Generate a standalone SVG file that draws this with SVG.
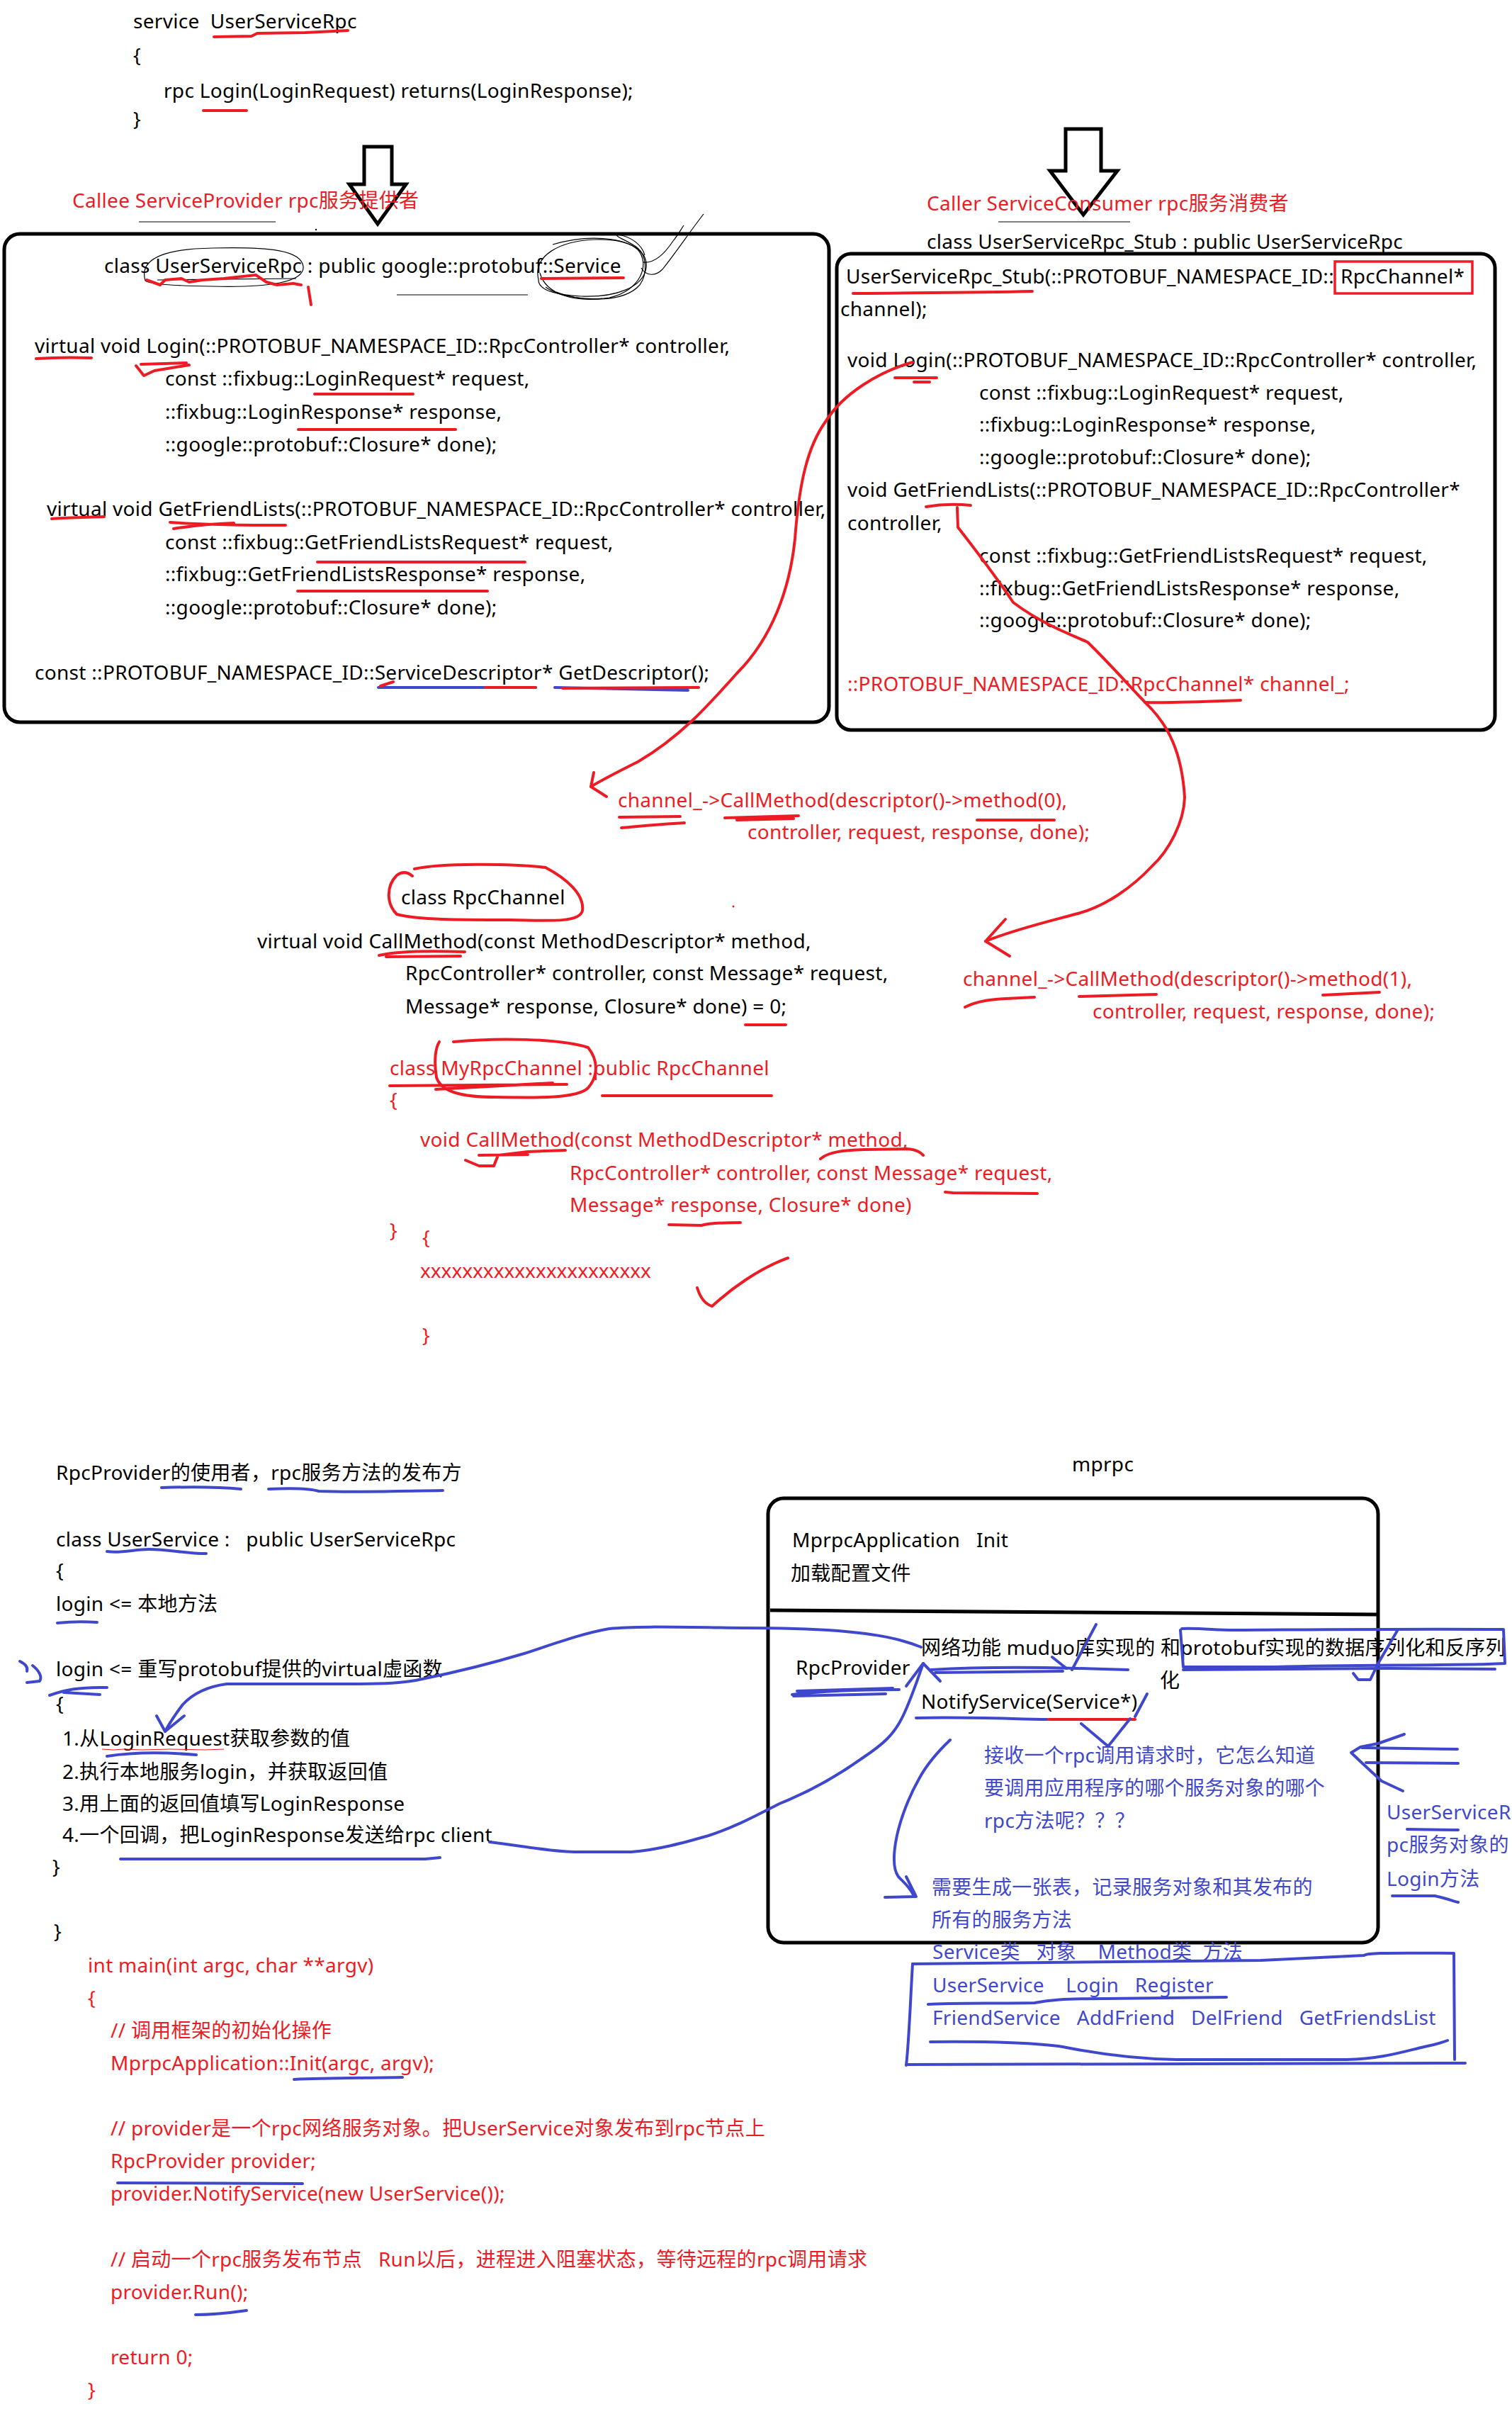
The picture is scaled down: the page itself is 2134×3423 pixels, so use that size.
<svg xmlns="http://www.w3.org/2000/svg" width="2134" height="3423" viewBox="0 0 2134 3423" xml:space="preserve">
<style>
  text { font-family: "Noto Sans", "Noto Sans CJK SC", sans-serif; font-size: 28px; white-space: pre; letter-spacing: 0.3px; }
  .t { fill: #000; }
  .r { fill: #ED1C24; }
  .b { fill: #3F48CC; }
  .box { fill: none; stroke: #000; stroke-width: 5; }
  .pen-r { fill: none; stroke: #ED1C24; stroke-width: 4; stroke-linecap: round; stroke-linejoin: round; }
  .pen-b { fill: none; stroke: #3F48CC; stroke-width: 4; stroke-linecap: round; stroke-linejoin: round; }
  .thin { fill: none; stroke: #000; stroke-width: 1.2; }
  .hollow { fill: #fff; stroke: #000; stroke-width: 5; stroke-linejoin: miter; }
</style>
<rect width="2134" height="3423" fill="#fff"/>

<!-- proto definition -->
<g id="proto">
  <text class="t" x="188" y="40">service  UserServiceRpc</text>
  <text class="t" x="188" y="88">{</text>
  <text class="t" x="231" y="138">rpc Login(LoginRequest) returns(LoginResponse);</text>
  <text class="t" x="188" y="178">}</text>
  <path class="pen-r" d="M302 52 L355 51 L363 47 L431 46 L491 43"/>
  <path class="pen-r" d="M287 156 L348 156"/>
</g>

<!-- hollow down arrows -->
<g id="arrow-callee">
  <path class="hollow" d="M514 207 L553 207 L553 260 L573 260 L533 316 L493 260 L514 260 Z"/>
</g>
<g id="arrow-caller">
  <path class="hollow" d="M1504 182 L1554 182 L1554 241 L1577 241 L1529 303 L1482 241 L1504 241 Z"/>
</g>

<!-- callee: service provider -->
<g id="callee">
  <text class="r" x="102" y="293">Callee ServiceProvider rpc服务提供者</text>
  <line class="thin" x1="196" y1="313" x2="389" y2="313"/>
  <circle cx="446" cy="324" r="1.2" fill="#000"/>
  <rect class="box" x="6" y="330" width="1164" height="689" rx="22"/>
  <text class="t" x="147" y="385">class UserServiceRpc : public google::protobuf::Service</text>
  <text class="t" x="49" y="498">virtual void Login(::PROTOBUF_NAMESPACE_ID::RpcController* controller,</text>
  <text class="t" x="233" y="544">const ::fixbug::LoginRequest* request,</text>
  <text class="t" x="233" y="591">::fixbug::LoginResponse* response,</text>
  <text class="t" x="233" y="637">::google::protobuf::Closure* done);</text>
  <text class="t" x="66" y="728">virtual void GetFriendLists(::PROTOBUF_NAMESPACE_ID::RpcController* controller,</text>
  <text class="t" x="233" y="775">const ::fixbug::GetFriendListsRequest* request,</text>
  <text class="t" x="233" y="820">::fixbug::GetFriendListsResponse* response,</text>
  <text class="t" x="233" y="867">::google::protobuf::Closure* done);</text>
  <text class="t" x="49" y="959">const ::PROTOBUF_NAMESPACE_ID::ServiceDescriptor* GetDescriptor();</text>
  <!-- pencil marks -->
  <path class="thin" d="M205 396 C195 362 240 351 300 350 C380 348 425 353 428 376 C430 398 380 406 300 404 C240 403 212 401 205 396"/>
  <path class="thin" d="M222 395 L418 393"/>
  <path class="thin" d="M760 395 C752 360 790 340 840 338 C890 336 915 355 912 378 C908 405 870 420 820 418 C780 416 760 408 760 395"/>
  <path class="thin" d="M780 345 C830 330 880 335 900 352 C918 372 905 410 860 420 C810 428 770 415 762 385"/>
  <path class="thin" d="M785 412 C820 426 880 428 903 402 C915 385 912 360 900 350 C888 340 865 333 872 331 C892 334 906 346 910 360"/>
  <path class="thin" d="M770 405 C790 420 830 423 850 421"/>
  <path class="thin" d="M905 378 C912 390 925 390 935 380 C955 355 975 325 993 302"/>
  <path class="thin" d="M908 370 C925 372 940 355 950 340 C958 330 962 322 965 318"/>
  <path class="thin" d="M560 416 L745 416"/>
  <path class="pen-r" d="M207 395 L226 402 L233 395 L256 393 L267 398 L286 395 L316 393 L361 388 L376 398 L391 402 L414 400 L425 402"/>
  <path class="pen-r" stroke-width="2.5" d="M435 405 L439 430"/>
  <path class="pen-r" d="M764 393 L880 392"/>
  <path class="pen-r" d="M51 506 C80 504 100 504 129 505"/>
  <path class="pen-r" d="M199 514 L263 512 M192 516 L203 530 L218 523 L267 515"/>
  <path class="pen-r" d="M444 556 L583 556"/>
  <path class="pen-r" d="M421 606 L643 606"/>
  <path class="pen-r" d="M73 732 C100 730 120 730 147 729"/>
  <path class="pen-r" d="M240 737 C280 740 330 741 403 741 M245 746 C270 742 300 739 330 738"/>
  <path class="pen-r" d="M448 793 L741 793"/>
  <path class="pen-r" d="M420 834 L688 834"/>
  <path class="pen-b" d="M534 970 L756 970 M783 970 L971 974"/>
  <path class="pen-r" d="M685 970 L756 970 M794 971 L986 970 M537 968 L555 962"/>
</g>

<!-- caller: service consumer -->
<g id="caller">
  <text class="r" x="1308" y="297">Caller ServiceConsumer rpc服务消费者</text>
  <line class="thin" x1="1409" y1="313" x2="1595" y2="313"/>
  <text class="t" x="1308" y="351">class UserServiceRpc_Stub : public UserServiceRpc</text>
  <rect class="box" x="1181" y="358" width="929" height="672" rx="20"/>
  <text class="t" x="1194" y="400">UserServiceRpc_Stub(::PROTOBUF_NAMESPACE_ID::<tspan x="1892">RpcChannel*</tspan></text>
  <text class="t" x="1186" y="446">channel);</text>
  <text class="t" x="1196" y="518">void Login(::PROTOBUF_NAMESPACE_ID::RpcController* controller,</text>
  <text class="t" x="1382" y="564">const ::fixbug::LoginRequest* request,</text>
  <text class="t" x="1382" y="609">::fixbug::LoginResponse* response,</text>
  <text class="t" x="1382" y="655">::google::protobuf::Closure* done);</text>
  <text class="t" x="1196" y="701">void GetFriendLists(::PROTOBUF_NAMESPACE_ID::RpcController*</text>
  <text class="t" x="1196" y="748">controller,</text>
  <text class="t" x="1382" y="794">const ::fixbug::GetFriendListsRequest* request,</text>
  <text class="t" x="1382" y="840">::fixbug::GetFriendListsResponse* response,</text>
  <text class="t" x="1382" y="885">::google::protobuf::Closure* done);</text>
  <text class="r" x="1196" y="975">::PROTOBUF_NAMESPACE_ID::RpcChannel* channel_;</text>
  <rect x="1884" y="369" width="194" height="45" fill="none" stroke="#ED1C24" stroke-width="3.5"/>
  <path class="pen-r" d="M1204 414 C1300 413 1380 413 1457 411"/>
  <path class="pen-r" d="M1263 533 L1322 533 M1290 539 L1312 539"/>
  <path class="pen-r" d="M1616 991 C1660 992 1700 990 1751 988"/>
</g>

<!-- RpcChannel interface and calls -->
<g id="rpcchannel">
  <text class="r" x="872" y="1139">channel_-&gt;CallMethod(descriptor()-&gt;method(0),</text>
  <text class="r" x="1055" y="1184">controller, request, response, done);</text>
  <text class="t" x="566" y="1276">class RpcChannel</text>
  <text class="t" x="363" y="1338">virtual void CallMethod(const MethodDescriptor* method,</text>
  <text class="t" x="572" y="1383">RpcController* controller, const Message* request,</text>
  <text class="t" x="572" y="1430">Message* response, Closure* done) = 0;</text>
  <text class="r" x="1359" y="1391">channel_-&gt;CallMethod(descriptor()-&gt;method(1),</text>
  <text class="r" x="1542" y="1437">controller, request, response, done);</text>
  <path class="pen-r" stroke-width="5" d="M585 1226 C620 1218 720 1218 770 1224 C800 1240 825 1262 822 1285 C818 1300 790 1300 720 1298 C650 1298 590 1298 560 1290 C545 1275 545 1250 560 1235 C568 1229 575 1230 582 1236"/>
  <circle cx="1035" cy="1279" r="1.5" fill="#ED1C24"/>
  <path class="pen-r" d="M874 1153 L960 1152 M877 1168 C900 1166 930 1163 966 1161"/>
  <path class="pen-r" d="M1023 1154 L1127 1151 M1040 1157 L1120 1155"/>
  <path class="pen-r" d="M1379 1157 L1488 1157"/>
  <path class="pen-r" d="M535 1348 C560 1342 600 1341 656 1343 M545 1350 L650 1349"/>
  <path class="pen-r" d="M1052 1446 L1109 1446"/>
  <path class="pen-r" d="M1362 1421 C1380 1412 1400 1410 1420 1409 L1460 1407"/>
  <path class="pen-r" d="M1523 1406 L1632 1403"/>
  <path class="pen-r" d="M1867 1404 L1947 1400"/>
</g>

<!-- MyRpcChannel implementation -->
<g id="myrpcchannel">
  <text class="r" x="550" y="1517">class MyRpcChannel :public RpcChannel</text>
  <text class="r" x="550" y="1562">{</text>
  <text class="r" x="593" y="1618">void CallMethod(const MethodDescriptor* method,</text>
  <text class="r" x="804" y="1665">RpcController* controller, const Message* request,</text>
  <text class="r" x="804" y="1710">Message* response, Closure* done)</text>
  <text class="r" x="550" y="1746">}</text>
  <text class="r" x="596" y="1756">{</text>
  <text class="r" x="593" y="1803" style="letter-spacing:0">xxxxxxxxxxxxxxxxxxxxxx</text>
  <text class="r" x="596" y="1894">}</text>
  <path class="pen-r" d="M640 1470 C700 1464 790 1465 830 1478 C846 1498 843 1520 830 1535 C815 1550 760 1549 700 1548 C650 1548 622 1540 616 1520 C612 1495 615 1478 620 1470"/>
  <path class="pen-r" stroke-width="5" d="M550 1532 L800 1530 M615 1537 L780 1528"/>
  <path class="pen-r" d="M850 1546 L1089 1546"/>
  <path class="pen-r" d="M657 1637 L676 1645 L697 1645 L703 1630 L745 1625 L798 1623 M676 1630 L745 1629"/>
  <path class="pen-r" d="M1158 1635 C1170 1625 1190 1623 1220 1622 L1280 1621 C1295 1622 1300 1627 1303 1630"/>
  <path class="pen-r" d="M1334 1682 L1345 1683 L1464 1684"/>
  <path class="pen-r" d="M944 1728 L990 1729 C1000 1726 1020 1725 1045 1725"/>
  <path class="pen-r" d="M984 1817 C988 1830 995 1840 1005 1843 C1030 1820 1070 1790 1112 1775"/>
</g>

<!-- service publisher code -->
<g id="publisher">
  <text class="t" x="79" y="2088">RpcProvider的使用者，rpc服务方法的发布方</text>
  <text class="t" x="79" y="2182">class UserService :   public UserServiceRpc</text>
  <text class="t" x="79" y="2226">{</text>
  <text class="t" x="79" y="2273">login &lt;= 本地方法</text>
  <text class="t" x="79" y="2365">login &lt;= 重写protobuf提供的virtual虚函数</text>
  <text class="t" x="79" y="2414">{</text>
  <text class="t" x="88" y="2463">1.从LoginRequest获取参数的值</text>
  <text class="t" x="88" y="2510">2.执行本地服务login，并获取返回值</text>
  <text class="t" x="88" y="2555">3.用上面的返回值填写LoginResponse</text>
  <text class="t" x="88" y="2599">4.一个回调，把LoginResponse发送给rpc client</text>
  <text class="t" x="74" y="2644">}</text>
  <text class="t" x="76" y="2735">}</text>
  <path class="pen-b" d="M228 2099 C260 2098 310 2098 340 2101"/>
  <path class="pen-b" d="M379 2101 C420 2099 440 2101 450 2104 C500 2106 560 2104 625 2103"/>
  <path class="pen-b" d="M151 2189 C170 2192 190 2186 210 2186 C240 2186 260 2192 291 2192"/>
  <path class="pen-b" d="M81 2290 C100 2288 120 2288 137 2289"/>
  <path class="pen-b" stroke-width="3" d="M28 2344 C36 2348 40 2352 38 2358 M46 2350 C55 2357 60 2366 56 2372 L38 2374"/>
  <path class="pen-b" d="M70 2392 C90 2385 110 2380 151 2381 M90 2388 L141 2391"/>
  <path fill="none" stroke="#ED1C24" stroke-width="1" d="M144 2468 L160 2469 L175 2468 L200 2469 L240 2468 L290 2469 L316 2468"/>
  <path class="pen-b" d="M151 2478 C190 2472 230 2472 277 2476"/>
  <path class="pen-b" d="M170 2623 L600 2623 L621 2621"/>
</g>

<!-- mprpc framework -->
<g id="mprpc">
  <text class="t" x="1513" y="2076">mprpc</text>
  <rect class="box" x="1084" y="2114" width="861" height="627" rx="22"/>
  <path fill="none" stroke="#000" stroke-width="5" d="M1087 2272 L1945 2278"/>
  <text class="t" x="1118" y="2183">MprpcApplication   Init</text>
  <text class="t" x="1116" y="2230">加载配置文件</text>
  <text class="t" x="1123" y="2363">RpcProvider</text>
  <text class="t" x="1300" y="2335">网络功能 muduo库实现的 和protobuf实现的数据序列化和反序列</text>
  <text class="t" x="1637" y="2381">化</text>
  <text class="t" x="1300" y="2411">NotifyService(Service*)</text>
  <text class="b" x="1389" y="2487">接收一个rpc调用请求时，它怎么知道</text>
  <text class="b" x="1389" y="2533">要调用应用程序的哪个服务对象的哪个</text>
  <text class="b" x="1389" y="2579">rpc方法呢？？？</text>
  <text class="b" x="1315" y="2673">需要生成一张表，记录服务对象和其发布的</text>
  <text class="b" x="1315" y="2719">所有的服务方法</text>
  <text class="b" x="1957" y="2567">UserServiceR</text>
  <text class="b" x="1957" y="2613">pc服务对象的</text>
  <text class="b" x="1957" y="2661">Login方法</text>
  <path class="pen-b" d="M1118 2391 C1160 2386 1200 2384 1269 2384 M1125 2386 L1260 2382 M1120 2393 L1250 2390"/>
  <path class="pen-b" d="M1314 2356 C1380 2352 1450 2352 1520 2354 L1592 2356 M1320 2360 L1500 2358"/>
  <path class="pen-b" d="M1547 2292 L1513 2356 M1485 2338 L1505 2354"/>
  <path class="pen-b" d="M1668 2298 C1700 2297 1720 2301 1750 2300 C1900 2299 2000 2298 2122 2299 L2124 2347 L2100 2348 C2000 2350 1900 2349 1800 2352 L1670 2352 L1666 2300"/>
  <path class="pen-b" d="M1670 2356 L1960 2354 L2110 2355"/>
  <path class="pen-b" d="M1972 2301 L1945 2347 L1934 2370 L1917 2370 L1910 2361"/>
  <path class="pen-b" d="M1293 2424 C1350 2422 1420 2425 1478 2426"/>
  <path class="pen-r" d="M1480 2426 L1602 2426"/>
  <path class="pen-b" d="M1619 2390 L1602 2422"/>
  <path class="pen-b" d="M1526 2432 L1564 2464 L1595 2425"/>
  <path class="pen-b" d="M1341 2455 C1320 2475 1305 2495 1297 2510 C1280 2540 1268 2575 1264 2600 C1260 2625 1262 2640 1268 2648 C1278 2658 1285 2665 1290 2675 M1249 2677 L1293 2676 M1279 2648 L1292 2674"/>
  <path class="pen-b" d="M1982 2447 L1945 2460 L1920 2465 L1907 2473 L1925 2490 L1950 2513 L1980 2527"/>
  <path class="pen-b" d="M1922 2466 L2057 2468 M1928 2487 L2058 2488"/>
  <path class="pen-b" d="M1986 2581 L2058 2582"/>
  <path class="pen-b" d="M1965 2675 L2025 2675 C2040 2678 2050 2682 2058 2684"/>
</g>

<!-- service / method table -->
<g id="table">
  <text class="b" x="1316" y="2764">Service类   对象    Method类  方法</text>
  <text class="b" x="1316" y="2811">UserService    Login   Register</text>
  <text class="b" x="1316" y="2857">FriendService   AddFriend   DelFriend   GetFriendsList</text>
  <path class="pen-b" d="M1288 2771 C1500 2770 1700 2768 1780 2766 C1850 2763 1900 2760 1925 2759 C1930 2756 1940 2755 2052 2756 L2053 2906"/>
  <path class="pen-b" d="M1288 2771 C1285 2820 1283 2880 1279 2914 M1279 2913 L2068 2911"/>
  <path class="pen-b" d="M1310 2828 C1340 2826 1400 2827 1460 2826 C1480 2822 1500 2820 1560 2820 L1731 2818"/>
  <path class="pen-b" d="M1313 2881 C1400 2880 1470 2883 1500 2888 C1550 2898 1600 2905 1660 2906 L1900 2906 C1950 2905 1980 2895 2010 2888 C2025 2885 2035 2882 2043 2879"/>
</g>

<!-- main() -->
<g id="main">
  <text class="r" x="124" y="2783">int main(int argc, char **argv)</text>
  <text class="r" x="124" y="2829">{</text>
  <text class="r" x="156" y="2875">// 调用框架的初始化操作</text>
  <text class="r" x="156" y="2921">MprpcApplication::Init(argc, argv);</text>
  <text class="r" x="156" y="3013">// provider是一个rpc网络服务对象。把UserService对象发布到rpc节点上</text>
  <text class="r" x="156" y="3059">RpcProvider provider;</text>
  <text class="r" x="156" y="3105">provider.NotifyService(new UserService());</text>
  <text class="r" x="156" y="3198">// 启动一个rpc服务发布节点   Run以后，进程进入阻塞状态，等待远程的rpc调用请求</text>
  <text class="r" x="156" y="3244">provider.Run();</text>
  <text class="r" x="156" y="3336">return 0;</text>
  <text class="r" x="124" y="3382">}</text>
  <path class="pen-b" d="M415 2934 C460 2932 520 2932 568 2931"/>
  <path class="pen-b" d="M166 3080 L427 3081"/>
  <path class="pen-b" d="M276 3266 C300 3266 320 3264 348 3260"/>
</g>

<!-- connectors -->
<g id="connectors">
  <path class="pen-r" d="M1288 511 C1240 525 1190 555 1165 595 C1140 630 1128 680 1122 760 C1115 830 1090 900 1040 950 C1000 995 960 1040 900 1075 C870 1090 850 1100 834 1110"/>
  <path class="pen-r" d="M838 1090 L834 1110 L856 1124"/>
  <path class="pen-r" d="M1307 715 C1330 711 1350 711 1370 713"/>
  <path class="pen-r" d="M1351 716 L1352 744 C1380 780 1410 820 1430 850 C1470 880 1510 895 1535 906 C1570 940 1600 975 1625 1000 C1648 1025 1668 1060 1672 1125 C1671 1160 1650 1200 1626 1222 C1600 1250 1560 1280 1517 1290 C1480 1300 1430 1312 1391 1328"/>
  <path class="pen-r" d="M1419 1297 L1391 1328 L1425 1349"/>
  <path class="pen-b" d="M1300 2324 C1270 2312 1240 2306 1183 2301 C1140 2298 1110 2297 1050 2297 C960 2296 898 2294 860 2298 C820 2305 780 2320 740 2333 C700 2345 650 2358 596 2369 C570 2375 540 2376 500 2376 L320 2376 C290 2380 270 2392 258 2405 C248 2418 240 2430 233 2443"/>
  <path class="pen-b" d="M221 2421 L233 2443 L260 2421"/>
  <path class="pen-b" d="M691 2599 C740 2605 780 2613 820 2613 L891 2613 C930 2610 968 2599 1000 2590 C1040 2577 1070 2560 1100 2545 C1150 2525 1190 2500 1218 2480 C1245 2462 1262 2448 1275 2420 C1286 2397 1295 2370 1303 2347"/>
  <path class="pen-b" d="M1279 2379 L1303 2347 L1327 2372"/>
</g>
</svg>
